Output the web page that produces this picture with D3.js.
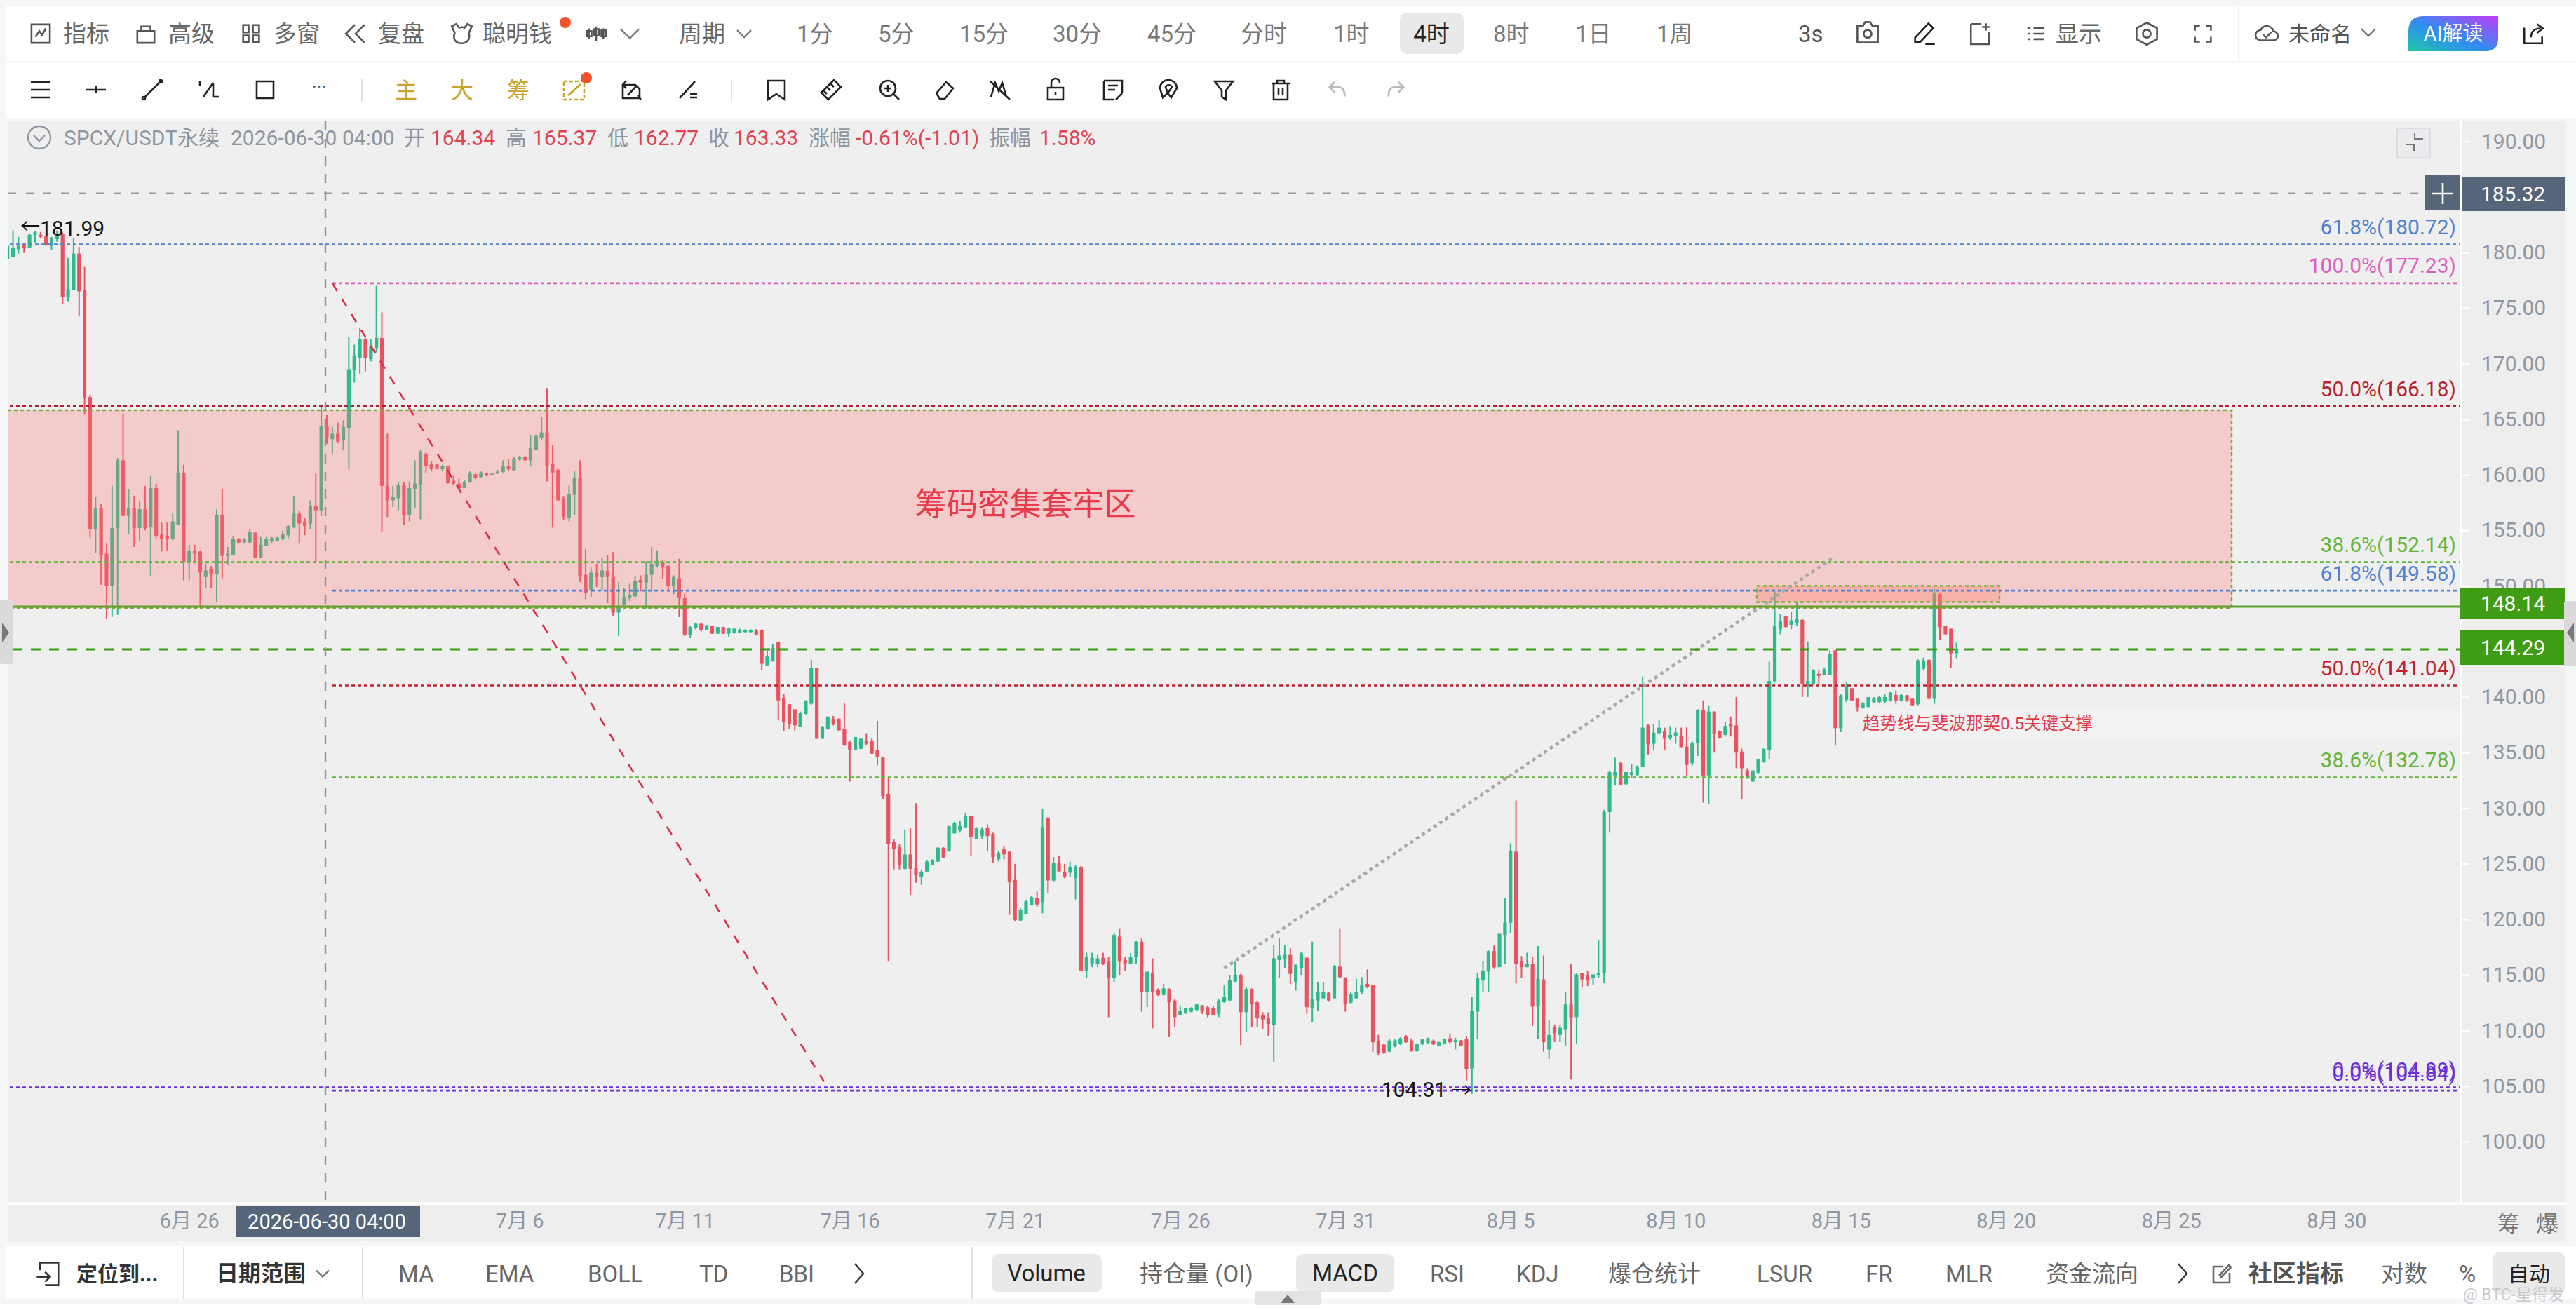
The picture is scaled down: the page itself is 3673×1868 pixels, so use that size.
<!DOCTYPE html>
<html>
<head>
<meta charset="utf-8">
<script src="https://cdn.jsdelivr.net/npm/d3@7"></script>
<style>
	html, body { margin: 0; padding: 0; background: #fff; overflow: hidden; }
	svg { display: block; }
	text { font-family: Roboto, "Noto Sans CJK SC", sans-serif; }
</style>
</head>
<body>
<svg id="chart" width="3673" height="1868" viewBox="0 0 3673 1868"></svg>
<script>

// 4h candles: [open, high, low, close]
const juneCandles = [
	[179.4,181.6,179.3,180.6],[179.6,182,179.6,180.4],[180.3,181.4,179.9,180.6],[180.7,180.8,179.95,180.4],
	[180.4,181.7,180.4,181.6],[181.6,181.9,180.9,181.8],[181.6,181.85,181.3,181.4],[181.5,181.5,180.6,180.65],
	[180.6,181.4,180.25,181.3],[181.2,181.99,180.95,181.5],[181.7,181.8,175.4,176],[176,179.5,175.6,176.7],
	[176.6,181.25,176.6,179.9],[179.9,180.5,174.3,176.5],[176.6,178.7,165.4,166.9],[167,167.2,154.3,155.1],
	[155.1,158,153,157],[157,157.4,150.1,152.8],[152.9,153.8,147,150],[150,159,147.2,155.2],
	[155.2,161.5,147.4,161.3],[161.3,165.5,156.3,156.3],[156.3,158.7,154.7,157],[157,158.1,153.5,155.2],
	[155.2,157.6,154,156.9],[156.9,159,155,155.2],[155.3,159.9,150.9,158.8],[158.8,159.2,154.3,154.5],
	[154.6,155.7,153.1,154.2],[154.5,155.7,153.2,154.2],[154.2,156.5,154.1,155.8],[155.5,164,155.5,160.2],
	[160.2,160.9,150.5,152.1],[152.1,153.7,150.5,153.2],[153.2,153.7,152.1,152.9],[153.1,153.2,148.2,151.2],
	[150.8,152,149.8,151.4],[151.5,151.8,149.8,151.1],[151.1,156.9,148.6,156.4],[156.4,158.7,150.7,152.7],
	[152.7,153.5,151.9,152.9],[152.8,154.5,152.8,154.2],[154.2,154.3,153.8,153.9],[153.9,154.3,153.8,154.2],
	[153.9,155.1,153.9,154.85],[154.8,154.8,152.5,152.5],[152.5,154.4,152.5,153.7],[153.6,154.4,153.6,154.25],
	[154,154.4,153.8,154.3],[154.05,154.4,154,154.35],[154.2,155,154.1,154.65],[154.55,155.5,154.3,155.4],
	[155.3,158.1,155.2,156.5],[156.5,156.8,153.8,155.6],[155.8,156.1,154.55,155.4],[155.6,157.7,155.1,157.2],
	[157.2,160.1,152.1,156.8],[156.8,166.3,156.3,164.4],[164.34,165.37,162.77,163.33],[163.2,164.3,161.9,163.7],
	[163.7,164.7,162.9,163],[163.1,164.9,162.2,164.3],[164.2,172.4,160.5,169.5]
];

const earlyJulyCandles = [
	[169.4,171.7,168.3,170.7],[170.5,173.2,169.1,172.2],[172.2,172.3,169.3,170.5],[170.4,172.2,170.2,171.5],
	[171.4,177,171,172.3],[172.3,174.6,154.9,159],[159,163.7,156.2,157.7],[157.7,159,157.1,158],
	[157.9,159.4,156.8,159.1],[159.1,159.3,155.5,156.4],[156.4,159.4,155.8,158.8],[158.7,161.3,157,159.2],
	[159.1,162.2,156,162],[161.9,162,160.2,160.8],[161,161.2,160.3,160.5],[160.9,161,160.5,160.5],
	[160.5,160.9,160.3,160.8],[160.8,160.8,159.2,159.25],[159.45,159.9,159.1,159.2],[159.2,159.7,158.8,158.8],
	[158.8,159.5,158.8,159.35],[159.3,160.3,159.3,160.1],[160.05,160.1,159.6,159.7],[159.8,160.3,159.75,160.2],
	[160.15,160.2,159.9,159.9],[159.95,160.1,159.95,160.1],[160.1,160.45,160.1,160.3],[160.25,161.3,160.2,160.8],
	[160.75,161.4,160.3,160.5],[160.4,161.6,160.35,161.45],[161.35,161.7,161.3,161.6],[161.6,161.7,161.2,161.3],
	[161.3,163.6,160.8,162.4],[162.25,163.6,162.2,163.5],[163.3,165.2,163.1,163.8],[163.8,167.8,159.4,160.8],
	[160.95,162.7,155.25,160.2],[160.45,160.55,157.7,157.7],[157.9,158.1,155.9,156.2],[156.1,159,155.8,158.3],
	[158.2,160.3,156.4,159.7],[159.7,161.3,150.35,150.9],[151,153.3,148.8,149.4],[149.6,151.65,149,151.2],
	[151.2,152,149.9,150.8],[150.8,152.5,149.55,151.4],[151.35,152.8,148.45,150.8],[150.8,153.05,147.3,147.6],
	[147.6,150.35,145.5,148.2],[148.3,149.8,148.25,149],[148.9,150.2,148.65,149.2],[149.05,150.9,149,150.45],
	[150.55,150.95,149.5,150.3],[150.3,152.2,147.9,151],[151,153.5,149.5,152],[151.8,153.2,151.65,152.25],
	[152.2,152.3,150.6,151.7],[151.8,151.85,149.6,150],[149.95,150.95,149.25,150.8],[150.7,152.45,147.2,148.9],
	[148.9,149.3,145.5,145.6],[145.6,146.4,145.3,146.3],[146.2,146.7,146.1,146.6],[146.6,146.7,145.9,146]
];

const midJulyCandles = [
	[146.05,146.5,146,146.45],[146.4,146.4,145.7,145.7],[145.7,146.3,145.7,146.3],[146.3,146.3,145.7,145.7],
	[145.7,146.25,145.4,146.2],[145.8,146.2,145.7,146.15],[145.8,146.15,145.75,146.05],[145.85,146.1,145.8,146.05],
	[145.85,146.1,145.8,146.05],[146.05,146.1,145.55,145.6],[146.05,146.1,142.45,143],[142.85,144.1,142.85,143.65],
	[143.2,144.8,143.2,144.4],[144.95,145,137.9,139.7],[139.9,140.3,136.95,137.8],[139.35,139.35,137.15,137.6],
	[138.9,138.9,137,137.45],[137.3,138.7,137.3,138.6],[138.5,139.7,138.45,139.7],[139.4,143.35,139.3,142.6],
	[142.6,142.6,136.25,136.25],[136.25,137.4,136.25,137.3],[137.1,138.3,137.05,138.2],[138.05,138.3,137.45,137.6],
	[138.05,138.1,137,137],[137.15,139.5,135.6,135.65],[135.95,136.1,132.4,135.25],[135.25,136.4,135.2,136.4],
	[135.35,136.3,135.3,136.25],[136.1,136.75,135.65,135.8],[136.1,136.3,134.9,134.9],[135.25,137.85,133.85,134.6],
	[134.6,134.6,130.8,131.1],[131.3,132.8,116.2,126.75],[127,127.2,124.5,126.3],[126.5,126.8,124.5,124.9],
	[124.55,128.1,124.5,125.85],[125.85,128.25,122.2,124.55],[124.6,130.45,123.3,124],[123.8,124.45,123.1,124.3],
	[124.3,125.3,124.25,125.2],[124.9,125.4,124.9,125.35],[125.2,126.5,125.15,126.45],[126.45,126.5,125.5,125.55],
	[126.15,128.4,126.1,128.4],[127.75,128.8,127.7,128.7],[128,128.9,127.8,128.4],[128.3,129.6,128.25,129.3],
	[129.3,129.3,125.7,127.4],[127.2,128.3,127.2,128.2],[127.5,128.3,127.2,128.1],[128.2,128.55,126.15,127.5],
	[127.7,127.8,125.1,125.6],[125.4,126.15,125.2,126],[126.3,126.6,125.4,125.85],[126.1,126.1,120.4,123.4],
	[123.55,125,119.8,119.95],[119.9,121,119.85,120.85],[120.5,121.7,120.45,121.6],[121.3,122.1,121.25,122],
	[121.9,122.5,121.15,121.35],[121.55,129.9,120.55,128.3],[129.15,129.2,122.35,123.5],[123.5,125.6,123.4,125.1]
];

const lateJulyCandles = [
	[125.05,125.7,124.3,124.35],[124.3,125,123.7,123.8],[124.2,125.2,123.8,124.7],[123.7,124.9,121.8,124.7],
	[124.7,124.8,115.4,115.4],[115.4,117,114.7,116.6],[115.95,117,115.7,116.55],[116,116.8,115.7,116.5],
	[116.55,117,115.9,116],[116.2,116.65,111.2,114.7],[114.7,118.75,114.35,118.6],[118.45,119.2,115,116.2],
	[116.35,116.65,115.35,116.05],[116,116.95,116,116.6],[116.65,118.05,116,118],[118,118.35,111.7,113.45],
	[113.5,115.3,112.1,115.3],[115.2,116.5,110.2,113.45],[113.7,113.8,113.1,113.2],[113.2,114.2,113.15,113.8],
	[113.75,113.8,109.4,112.55],[112.7,112.85,110.3,111.2],[111.4,112.25,111.35,111.8],[111.6,112.05,111.5,112],
	[111.7,112.1,111.65,112.05],[111.85,112.4,111.8,112.35],[112.25,112.3,111.5,111.7],[112.1,112.25,111.2,111.4],
	[112,112.2,111.35,111.4],[111.5,112.85,111.2,112.7],[112.55,114.05,112.5,113],[112.7,115,112.7,114.5],
	[114.4,116.2,114.4,115],[115,115.1,108.7,111.65],[111.65,113.9,109.9,113.75],[113.75,113.8,110.3,112.4],
	[112.55,112.7,110.3,111.1],[111.35,111.65,110.15,111],[111.1,111.65,109.5,110.6],[110.5,117.7,107.2,116.5],
	[116.35,118.3,114.7,116.75],[116.4,117.7,115.6,116.8],[116.8,117.4,114.2,115.1],[114.4,116,113.6,115.9],
	[115.6,117.1,115,116.95],[116.55,116.6,111.5,112.1],[112,118,110.75,112.85],[112.7,114.35,111.8,113.45],
	[112.9,114.35,112.9,113.5],[113.4,113.5,112.6,112.7],[112.9,115.9,112.9,115.8],[115.75,119.2,114.7,114.8],
	[114.7,114.8,111.7,112.4],[112.5,113.5,112.4,113.3],[112.9,114.65,112.85,113.45],[113.45,114.8,113.3,114.05],
	[114.2,115.5,113.8,113.9],[114.1,114.1,108.1,108.95]
];

const earlyAugustCandles = [
	[109.1,109.6,107.8,108],[108.75,108.8,107.9,108],[108.1,109.25,108.05,109.1],[108.6,109.2,108.5,109.1],
	[108.8,109.4,108.7,109.3],[109.45,109.6,108.9,108.95],[109.1,109.3,108.1,108.15],[108.15,108.85,108.1,108.8],
	[108.75,109.25,108.7,109.2],[108.9,109.35,108.85,109.3],[109.1,109.2,108.7,108.75],[108.65,109,108.6,108.95],
	[108.8,109.3,108.75,109.25],[109.3,109.75,108.85,108.95],[108.95,109.35,108.3,109.15],[109.1,109.15,108.6,108.6],
	[109.25,109.5,105.5,106.55],[106.6,113,104.31,111.75],[111.7,115.2,109.25,114.75],[114.5,116.25,113.45,115.4],
	[115.3,117.2,113.45,117.15],[117.15,117.65,115.55,115.7],[115.7,118.7,115.7,118.7],[118.6,121.95,116,119.7],
	[119.7,126.85,118.8,126.2],[126.1,130.7,114.25,116],[116.2,116.7,114.75,115.7],[115.7,117,115.7,116],
	[116,116.65,110.4,112.15],[112.15,117.6,109.25,114.65],[114.6,116.75,108.1,108.95],[108.3,110.95,107.45,109.6],
	[110.35,110.55,108.95,109.75],[109.6,110.55,108.95,110.25],[110.05,113.45,108.65,112.35],[112.35,116,105.6,111.2],
	[111.2,115.15,108.8,115.05],[115.2,115.2,113.9,114.6],[114.95,115.4,114,114.5],[114.75,115.05,114.1,115.05],
	[114.95,118.1,114.75,115.2],[115.2,129.85,114.25,129.65],[129.65,133.4,127.8,133.25],[132.95,134.55,132.1,133.25]
];

const lateAugustCandles = [
	[134.1,134.15,132.1,132.1],[132.15,133.25,132.1,133.25],[133,134,132.75,133.25],[133,133.85,132.9,133.7],
	[133.75,141.85,133.7,137.25],[137.45,137.6,134.85,135.75],[135.8,137.6,135.25,136.8],[136.75,137.9,136.65,137.25],
	[136.95,137.25,135.2,136.25],[136.3,137.4,136.15,136.6],[136.5,137.25,135.8,136.8],[136.55,137.25,135.5,135.5],
	[135.55,137.35,132.95,133.9],[134.05,136,133.85,135.9],[135.85,138.9,134.7,138.85],[138.85,139.7,130.5,132.95],
	[132.95,139.2,130.35,138.7],[138.7,138.7,135,136.7],[136.95,137,136.25,136.3],[136.6,137.75,136.45,137.4],
	[137.6,138.25,136.45,137.4],[137.45,140,133.6,135],[135.1,135.35,130.85,133.6],[133.4,133.6,132.65,132.9],
	[132.4,133.4,132.4,133.4],[133.2,134.4,133.1,134.4],[134.15,135.35,134.1,135.35],[135.25,143.2,134.4,141.45],
	[141.45,149.5,141.3,146.4],[146.1,147.5,145.65,146.8],[147.25,147.25,146.2,146.3],[146.5,147.7,146.1,146.9],
	[146.7,148.55,146.4,147],[146.95,147,140,141.15],[141,145,140,141.45],[141.15,142.5,141.1,142.4],
	[142.1,142.4,141.1,141.9],[142,142.6,141.95,142.5],[142,144.2,142,143.85],[144.2,144.25,135.65,137.2],
	[137.2,140.3,136.85,140.15],[139.75,141.3,139.55,140.95],[140.8,140.8,139.65,139.7],[139.85,139.85,138.7,139.1],
	[139,139.55,138.95,139.5],[139.1,140,139.1,140],[139.55,140,139.45,139.85],[139.55,140.1,139.5,140],
	[139.6,140.3,139.5,140],[139.65,140.45,139.6,140.4],[140.2,140.6,139.4,139.7],[139.65,140.25,139.6,140.2],
	[140.15,140.2,139.6,139.65],[139.85,139.9,139.2,139.2],[139.35,143.4,139.2,143.3],[142.55,143.55,142.4,143.3],
	[143.35,143.4,139.8,139.85],[139.85,149.75,139.4,149.3],[149.25,149.35,145.15,146.3],[146.4,146.4,145.6,145.65],
	[146.15,146.15,142.65,143.95],[143.95,144.9,143.5,144.29]
];

// 145.00 sits wholly behind the price tag in the picture, so it is left out
const priceTicks = [100,105,110,115,120,125,130,135,140,150,155,160,165,170,175,180,190];
const dateTicks = ["2026-06-26","2026-07-06","2026-07-11","2026-07-16","2026-07-21","2026-07-26","2026-07-31","2026-08-05","2026-08-10","2026-08-15","2026-08-20","2026-08-25","2026-08-30"];

// Fibonacci levels: label ratio, label price, drawn price
const fibRatios = ["61.8%","100.0%","50.0%","38.6%","61.8%","50.0%","38.6%","0.0%","0.0%"];
const fibLabels = [180.72,177.23,166.18,152.14,149.58,141.04,132.78,104.89,104.84];
const fibPrices = [180.72,177.23,166.18,152.14,149.58,141.04,132.78,104.89,104.6];
const fibColors = ["#4f80d2","#dc5fc0","#b51f2e","#62b53c","#4f80d2","#c2202f","#62b53c","#6a2fd6","#6a2fd6"];
const fibStartsAtAnchor = [false,true,false,false,true,true,true,false,true];

const zonePrices = [165.8, 148.0];
const smallZonePrices = [150.0, 148.55];
const lastPrices = [148.14, 144.29];
const crossPrice = 185.32;

const firstCandleTime = Date.UTC(2026, 5, 20, 12);
const crossTime = Date.UTC(2026, 5, 30, 4);
const fourHours = 4 * 3600 * 1000;

const candles = [].concat(juneCandles, earlyJulyCandles, midJulyCandles, lateJulyCandles, earlyAugustCandles, lateAugustCandles)
	.map((d, i) => ({time: new Date(firstCandleTime + i * fourHours), open: d[0], high: d[1], low: d[2], close: d[3]}));

const GREY_TEXT = "#8e96a2";
const GREEN = "#2fb98f";
const RED = "#e8535f";

const plot = {left: 11, right: 3509, top: 173, bottom: 1715};

const svg = d3.select("#chart");

const x = d3.scaleUtc()
	.domain([new Date(firstCandleTime), new Date(crossTime)])
	.range([10.7, 466]);

const y = d3.scaleLinear()
	.domain([180, 100])
	.range([360, 1628]);

function label(g, str, px, py, color, size, anchor, weight) {
	return g.append("text")
		.attr("x", px)
		.attr("y", py)
		.attr("fill", color || "#666")
		.attr("font-size", size || 33)
		.attr("text-anchor", anchor || "start")
		.attr("font-weight", weight || 400)
		.attr("dominant-baseline", "central")
		.text(str);
}

// rough toolbar glyphs, drawn in a 32x32 box
const iconPaths = {
	chart: "M2 2h28v28H2z M8 21l6-9 4 6 6-10",
	lock: "M3 12h26v18H3z M9 12V5h14v7",
	panes: "M3 2h9v12H3z M3 19h9v11H3z M19 2h10v12H19z M19 19h10v11H19z",
	replay: "M15 4L3 16l12 12 M28 4L16 16l12 12",
	smart: "M3 6l6-3 4 5c3-1 5-1 7 0l4-5 6 3-4 9c2 8-2 14-10 14S4 23 7 15z",
	candles: "M5 8v16 M2 12h7v8H2z M16 5v22 M13 9h7v10h-7z M27 8v16 M24 11h7v9h-7z",
	camera: "M3 8h7l3-5h6l3 5h7v21H3z M21 18a5 5 0 1 1-10 0a5 5 0 1 1 10 0",
	pen: "M5 21L22 3l6 6-17 18H5z M18 29h12",
	addLayout: "M4 3h14 M4 3v27h24V14 M24 2v10 M19 7h10",
	list: "M3 7h4 M12 7h17 M3 16h4 M12 16h17 M3 25h4 M12 25h17",
	hexagon: "M16 2l13 7v14l-13 7-13-7V9z M21 16a5 5 0 1 1-10 0a5 5 0 1 1 10 0",
	full: "M3 11V3h8 M21 3h8v8 M29 21v8h-8 M11 29H3v-8",
	cloud: "M8 25a7 7 0 0 1 0-14a9 9 0 0 1 17 2a6 6 0 0 1 0 12z M11 17l4 4 7-7",
	share: "M3 8v21h24v-9 M12 21c0-8 5-12 13-12 M20 3l8 6-8 6",
	menu: "M2 5h28 M2 16h28 M2 27h28",
	hline: "M2 16h28 M16 11v10",
	trend: "M4 28L28 4 M4 28m-2 0a2 2 0 1 0 4 0a2 2 0 1 0-4 0 M28 4m-2 0a2 2 0 1 0 4 0a2 2 0 1 0-4 0",
	fib: "M3 3v8 M8 26L22 6 M22 6v20 M22 26h8",
	rect: "M4 4h24v24H4z",
	swap: "M3 9h18l6 6v13H3z M10 24L22 11 M8 3l-5 6 5 5 M24 24l5 6-5-6",
	cross: "M5 28L27 4 M20 22h10 M20 27h10",
	tag: "M4 3h24v27l-12-8-12 8z",
	ruler: "M20 2l10 10L12 30 2 20z M16 8l4 4 M11 13l4 4 M6 18l4 4",
	zoomin: "M25 14a11 11 0 1 1-22 0a11 11 0 1 1 22 0 M22 22l8 8 M9 14h10 M14 9v10",
	eraser: "M4 21L18 5l10 9-12 15H9z",
	eye: "M3 26L9 6l5 12 5-12 6 20 M2 4l28 26",
	unlock: "M5 13h22v17H5z M10 13V6a6 6 0 0 1 12 0 M16 19v5",
	note: "M3 3h26v17 M3 3v27h14 M9 10h14 M9 16h10 M20 30l9-9",
	magnet: "M8 27L4 14a12 12 0 0 1 24 0l-8 13-5-6 6-9a5 5 0 0 0-9 0l3 9z",
	funnel: "M3 4h26L19 17v13l-6-4v-9z",
	trash: "M3 7h26 M11 7V3h10v4 M6 7v23h20V7 M13 13v11 M19 13v11",
	undo: "M12 4L4 12l8 8 M4 12h14c6 0 9 5 9 14",
	redo: "M20 4l8 8-8 8 M28 12H14c-6 0-9 5-9 14",
	locate: "M2 20h16 M12 14l6 6-6 6 M6 12V3h22v27H12",
	edit: "M27 15v14H4V6h14 M13 18L26 4l3 3-14 14z"
};

function icon(g, name, px, py, size, color, sw) {
	g.append("path")
		.attr("d", iconPaths[name])
		.attr("transform", "translate(" + (px - size / 2) + "," + (py - size / 2) + ") scale(" + size / 32 + ")")
		.attr("fill", "none")
		.attr("stroke", color || "#555")
		.attr("stroke-width", sw || 2.6)
		.attr("vector-effect", "non-scaling-stroke");
}

function chevron(g, px, py, w, color) {
	g.append("path")
		.attr("d", "M" + (px - w / 2) + " " + (py - w / 4) + "L" + px + " " + (py + w / 4) + "L" + (px + w / 2) + " " + (py - w / 4))
		.attr("fill", "none")
		.attr("stroke", color || "#777")
		.attr("stroke-width", 2.4);
}

function dot(g, px, py) {
	g.append("circle").attr("cx", px).attr("cy", py).attr("r", 8).attr("fill", "#f0522a");
}

// page backgrounds
svg.append("rect").attr("width", 3673).attr("height", 1868).attr("fill", "#f5f6f7");
svg.append("rect").attr("x", 8).attr("y", 8).attr("width", 3665).attr("height", 79).attr("fill", "#fff");
svg.append("rect").attr("x", 8).attr("y", 90).attr("width", 3665).attr("height", 78).attr("fill", "#fff");
svg.append("rect").attr("x", 11).attr("y", plot.top).attr("width", plot.right - plot.left).attr("height", plot.bottom - plot.top).attr("fill", "#efefef");
svg.append("rect").attr("x", plot.right).attr("y", plot.top).attr("width", 3658 - plot.right).attr("height", plot.bottom - plot.top).attr("fill", "#eeeeee");
svg.append("rect").attr("x", 11).attr("y", 1718).attr("width", 3647).attr("height", 51).attr("fill", "#eeeeee");
svg.append("rect").attr("x", 8).attr("y", 1777).attr("width", 3665).attr("height", 75).attr("fill", "#fff");
svg.append("rect").attr("x", 0).attr("y", 1860).attr("width", 3673).attr("height", 8).attr("fill", "#fff");

// top toolbar
const top1 = svg.append("g");
icon(top1, "chart", 58, 48, 30);
label(top1, "指标", 90, 48);
icon(top1, "lock", 208, 48, 30);
label(top1, "高级", 240, 48);
icon(top1, "panes", 358, 48, 28);
label(top1, "多窗", 390, 48);
icon(top1, "replay", 507, 48, 34);
label(top1, "复盘", 539, 48);
icon(top1, "smart", 658, 48, 34);
label(top1, "聪明钱", 688, 48);
dot(top1, 806, 32);
icon(top1, "candles", 850, 48, 30);
chevron(top1, 898, 48, 26);
label(top1, "周期", 968, 48);
chevron(top1, 1061, 48, 20);
[["1分",1136],["5分",1252],["15分",1368],["30分",1501],["45分",1636],["分时",1769],["1时",1901],["8时",2129],["1日",2246],["1周",2362]]
	.forEach(d => label(top1, d[0], d[1], 48, "#777"));
top1.append("rect").attr("x", 1996).attr("y", 18).attr("width", 91).attr("height", 59).attr("rx", 10).attr("fill", "#e9e9e9");
label(top1, "4时", 2041, 48, "#222", 33, "middle");
label(top1, "3s", 2564, 48, "#555");
icon(top1, "camera", 2663, 46, 36);
icon(top1, "pen", 2743, 48, 36, "#222");
icon(top1, "addLayout", 2823, 48, 34);
icon(top1, "list", 2903, 48, 28);
label(top1, "显示", 2931, 48, "#666");
icon(top1, "hexagon", 3061, 48, 36);
icon(top1, "full", 3141, 48, 28);
top1.append("line").attr("x1", 3192).attr("x2", 3192).attr("y1", 8).attr("y2", 87).attr("stroke", "#f0f0f0").attr("stroke-width", 2);
icon(top1, "cloud", 3232, 48, 34);
label(top1, "未命名", 3263, 48, "#555", 30);
chevron(top1, 3377, 46, 20);

const aiGradient = svg.append("defs").append("linearGradient").attr("id", "ai-gradient")
	.attr("x1", "0%").attr("y1", "100%").attr("x2", "100%").attr("y2", "0%");
[["0%","#1fc7a8"],["45%","#2f8df0"],["100%","#c23cf5"]].forEach(d => aiGradient.append("stop").attr("offset", d[0]).attr("stop-color", d[1]));
top1.append("path").attr("d", "M3434 23H3562V55Q3562 73 3544 73H3434V45Q3434 23 3456 23Z").attr("fill", "url(#ai-gradient)");
label(top1, "AI解读", 3498, 48, "#fff", 29, "middle");
icon(top1, "share", 3613, 48, 34, "#222");

// drawing toolbar
const top2 = svg.append("g");
[["menu",58],["hline",137],["trend",217],["fib",298],["rect",378]].forEach(d => icon(top2, d[0], d[1], 128, 32, "#222"));
label(top2, "···", 455, 124, "#555", 26, "middle");
top2.append("line").attr("x1", 516).attr("x2", 516).attr("y1", 112).attr("y2", 146).attr("stroke", "#e3e3e3").attr("stroke-width", 2);
[["主",579],["大",659],["筹",739]].forEach(d => label(top2, d[0], d[1], 129, "#c9a429", 32, "middle"));
top2.append("rect").attr("x", 804).attr("y", 116).attr("width", 29).attr("height", 26).attr("fill", "none").attr("stroke", "#c9a429").attr("stroke-width", 2.6).attr("stroke-dasharray", "5,3");
top2.append("path").attr("d", "M810 136L828 120").attr("stroke", "#c9a429").attr("stroke-width", 3);
dot(top2, 836, 111);
[["swap",901],["cross",980]].forEach(d => icon(top2, d[0], d[1], 128, 32, "#222"));
top2.append("line").attr("x1", 1043).attr("x2", 1043).attr("y1", 112).attr("y2", 146).attr("stroke", "#e3e3e3").attr("stroke-width", 2);
[["tag",1107],["ruler",1185],["zoomin",1268],["eraser",1347],["eye",1426],["unlock",1505],["note",1587],["magnet",1666],["funnel",1745],["trash",1826]]
	.forEach(d => icon(top2, d[0], d[1], 128, 32, "#222"));
icon(top2, "undo", 1907, 128, 30, "#bbb");
icon(top2, "redo", 1990, 128, 30, "#bbb");

// candles
const plotClip = svg.append("defs").append("clipPath").attr("id", "plot-clip");
plotClip.append("rect").attr("x", plot.left).attr("y", plot.top).attr("width", plot.right - plot.left).attr("height", plot.bottom - plot.top);

const candleG = svg.append("g").attr("clip-path", "url(#plot-clip)");
const candleColor = d => d.close >= d.open ? GREEN : RED;

candleG.selectAll("line.wick")
	.data(candles)
	.enter()
	.append("line")
		.attr("class", "wick")
		.attr("x1", d => x(d.time))
		.attr("x2", d => x(d.time))
		.attr("y1", d => y(d.high))
		.attr("y2", d => y(d.low))
		.attr("stroke", candleColor)
		.attr("stroke-width", 2);

candleG.selectAll("rect.body")
	.data(candles)
	.enter()
	.append("rect")
		.attr("class", "body")
		.attr("x", d => x(d.time) - 2.6)
		.attr("width", 5.2)
		.attr("y", d => y(Math.max(d.open, d.close)))
		.attr("height", d => Math.max(2.5, Math.abs(y(d.open) - y(d.close))))
		.attr("fill", candleColor);

// the zone overlays sit on top of the candles and tint them
const zoneRight = 3182;
svg.append("rect")
	.attr("x", plot.left)
	.attr("width", zoneRight - plot.left)
	.attr("y", y(zonePrices[0]))
	.attr("height", y(zonePrices[1]) - y(zonePrices[0]))
	.attr("fill", "rgba(255,120,120,0.3)")
	.attr("stroke", "none");
const zoneBorder = "M" + plot.left + " " + y(zonePrices[0]) + "H" + zoneRight + "V" + y(zonePrices[1]) + "H" + plot.left;
svg.append("path").attr("d", zoneBorder).attr("fill", "none").attr("stroke", "#7fa83c").attr("stroke-width", 2.5).attr("stroke-dasharray", "5,4");

// annotation band behind the note
svg.append("rect").attr("x", 2656).attr("y", 1013).attr("width", plot.right - 2656).attr("height", 40).attr("fill", "#f2f2f2");

svg.append("rect")
	.attr("x", 2505)
	.attr("width", 346)
	.attr("y", y(smallZonePrices[0]))
	.attr("height", y(smallZonePrices[1]) - y(smallZonePrices[0]))
	.attr("fill", "rgba(255,120,90,0.28)")
	.attr("stroke", "#7fb03c")
	.attr("stroke-width", 2.5)
	.attr("stroke-dasharray", "5,4");

// fibonacci lines and labels
const fibG = svg.append("g");
const anchorX = 474;
fibPrices.forEach((p, i) => {
	fibG.append("line")
		.attr("x1", fibStartsAtAnchor[i] ? anchorX : 14)
		.attr("x2", plot.right)
		.attr("y1", y(p))
		.attr("y2", y(p))
		.attr("stroke", fibColors[i])
		.attr("stroke-width", 2.6)
		.attr("stroke-dasharray", "5,4");
	label(fibG, fibRatios[i] + "(" + fibLabels[i].toFixed(2) + ")", 3502, y(p) - 25, fibColors[i], 30, "end");
});

// trend lines, anchored on candle times and prices
const lineGen = d3.line().x(d => x(new Date(firstCandleTime + d[0] * fourHours))).y(d => y(d[1]));
const fallLine = [[59, 177.23], [148.3, 105.4]];
const riseLine = [[221, 115.6], [331.5, 152.5]];
svg.append("path").attr("d", lineGen(fallLine)).attr("fill", "none").attr("stroke", "#d9304a").attr("stroke-width", 2.6).attr("stroke-dasharray", "13,13");
svg.append("path").attr("d", lineGen(riseLine)).attr("fill", "none").attr("stroke", "#a9a9a9").attr("stroke-width", 4.5).attr("stroke-dasharray", "5,5");

// price lines
svg.append("line").attr("x1", plot.left).attr("x2", plot.right).attr("y1", y(lastPrices[0])).attr("y2", y(lastPrices[0]))
	.attr("stroke", "#5fa02d").attr("stroke-width", 3);
svg.append("line").attr("x1", 18).attr("x2", plot.right).attr("y1", y(lastPrices[1])).attr("y2", y(lastPrices[1]))
	.attr("stroke", "#3a9a14").attr("stroke-width", 3).attr("stroke-dasharray", "14,12");
svg.append("line").attr("x1", 12).attr("x2", 3458).attr("y1", y(crossPrice)).attr("y2", y(crossPrice))
	.attr("stroke", "#9a9a9a").attr("stroke-width", 2.4).attr("stroke-dasharray", "11,14");

// crosshair
const crossX = x(new Date(crossTime)) - 2;
svg.append("line").attr("x1", crossX).attr("x2", crossX).attr("y1", plot.top).attr("y2", plot.bottom)
	.attr("stroke", "#8d95a1").attr("stroke-width", 2.4).attr("stroke-dasharray", "13,12");

// chart notes
label(svg, "筹码密集套牢区", 1462, 719, "#e83a4a", 45, "middle");
label(svg, "趋势线与斐波那契0.5关键支撑", 2656, 1031, "#e2394b", 24.5);

const extremes = svg.append("g");
label(extremes, "←", 29, 323, "#111", 28);
label(extremes, "181.99", 57, 325, "#111", 30);
label(extremes, "104.31", 1970, 1553, "#111", 30);
label(extremes, "→", 2070, 1555, "#111", 28);

// legend row
const legend = svg.append("g");
legend.append("circle").attr("cx", 56).attr("cy", 196).attr("r", 16).attr("fill", "none").attr("stroke", GREY_TEXT).attr("stroke-width", 2.4);
chevron(legend, 56, 197, 16, GREY_TEXT);
const legendRed = "#e0424f";
label(legend, "SPCX/USDT永续", 91, 196, GREY_TEXT, 30);
label(legend, "2026-06-30 04:00", 329, 196, GREY_TEXT, 30);
[["开",576,"164.34",614],["高",721,"165.37",759],["低",866,"162.77",904],["收",1010,"163.33",1046],["涨幅",1153,"-0.61%(-1.01)",1220],["振幅",1410,"1.58%",1482]]
	.forEach(d => {
		label(legend, d[0], d[1], 196, GREY_TEXT, 30);
		label(legend, d[2], d[3], 196, legendRed, 30);
	});

svg.append("rect").attr("x", 3418).attr("y", 183).attr("width", 47).attr("height", 42).attr("fill", "#ececef").attr("stroke", "#dcdde2").attr("stroke-width", 2);
svg.append("path").attr("d", "M3443 190v8h12 M3430 206h12v9").attr("fill", "none").attr("stroke", "#777").attr("stroke-width", 2);

// axes
const yAxis = d3.axisRight(y)
	.tickValues(priceTicks)
	.tickSize(13)
	.tickPadding(16)
	.tickFormat(d3.format(".2f"));

const yAxisG = svg.append("g")
	.attr("transform", "translate(" + plot.right + ",0)")
	.call(yAxis);
yAxisG.selectAll("line").attr("stroke", "#fff").attr("stroke-width", 2.4);
yAxisG.select(".domain").remove();
yAxisG.selectAll("text").attr("fill", GREY_TEXT).attr("font-size", 30).attr("font-family", "Roboto");
svg.append("line").attr("x1", plot.right).attr("x2", plot.right).attr("y1", plot.top).attr("y2", plot.bottom).attr("stroke", "#fff").attr("stroke-width", 2.4);
svg.append("line").attr("x1", 11).attr("x2", 3658).attr("y1", 1716).attr("y2", 1716).attr("stroke", "#fff").attr("stroke-width", 3);

const xAxis = d3.axisBottom(x)
	.tickValues(dateTicks.map(d => new Date(d + "T00:00:00Z")))
	.tickSize(0)
	.tickPadding(0)
	.tickFormat(d => (d.getUTCMonth() + 1) + "月 " + d.getUTCDate());

const xAxisG = svg.append("g")
	.attr("transform", "translate(0,1742)")
	.call(xAxis);
xAxisG.select(".domain").remove();
xAxisG.selectAll("text").attr("fill", GREY_TEXT).attr("font-size", 29).attr("dy", "0.32em").attr("y", 0);

svg.append("rect").attr("x", 336).attr("y", 1719).attr("width", 263).attr("height", 45).attr("fill", "#56657a");
label(svg, "2026-06-30 04:00", x(new Date(crossTime)), 1742, "#fff", 29, "middle");

label(svg, "筹", 3577, 1745, "#777", 32, "middle");
label(svg, "爆", 3632, 1745, "#777", 32, "middle");

// price tags on the axis
svg.append("rect").attr("x", 3458).attr("y", 250).attr("width", 50).attr("height", 50).attr("fill", "#56657a");
svg.append("path").attr("d", "M3468 276h30 M3483 261v30").attr("stroke", "#fff").attr("stroke-width", 2.6);
svg.append("rect").attr("x", 3511).attr("y", 252).attr("width", 147).attr("height", 49).attr("fill", "#56657a");
label(svg, crossPrice.toFixed(2), 3583, 276, "#fff", 30, "middle");

svg.append("rect").attr("x", 3508).attr("y", 838).attr("width", 150).attr("height", 45).attr("fill", "#3f9c14");
label(svg, lastPrices[0].toFixed(2), 3583, 860, "#fff", 30, "middle");
svg.append("rect").attr("x", 3508).attr("y", 898).attr("width", 150).attr("height", 50).attr("fill", "#3f9c14");
label(svg, lastPrices[1].toFixed(2), 3583, 923, "#fff", 30, "middle");

// collapse handles
svg.append("rect").attr("x", 0).attr("y", 855).attr("width", 18).attr("height", 92).attr("rx", 3).attr("fill", "#dadada");
svg.append("path").attr("d", "M3 888L13 902L3 916Z").attr("fill", "#777");
svg.append("rect").attr("x", 3656).attr("y", 857).attr("width", 17).attr("height", 93).attr("rx", 3).attr("fill", "#dadada");
svg.append("path").attr("d", "M3670 888L3660 902L3670 916Z").attr("fill", "#777");

// bottom toolbar
const bottom = svg.append("g");
const bottomY = 1816;
icon(bottom, "locate", 69, bottomY, 38, "#333");
label(bottom, "定位到...", 109, bottomY, "#333", 30, "start", 700);
[262, 517, 1386].forEach(px => bottom.append("line").attr("x1", px).attr("x2", px).attr("y1", 1778).attr("y2", 1852).attr("stroke", "#e0e0e0").attr("stroke-width", 2));
label(bottom, "日期范围", 308, bottomY, "#333", 32, "start", 700);
chevron(bottom, 460, bottomY, 18);
[["MA",568],["EMA",692],["BOLL",838],["TD",997],["BBI",1111],["持仓量 (OI)",1625],["RSI",2039],["KDJ",2162],["爆仓统计",2293],["LSUR",2505],["FR",2660],["MLR",2774],["资金流向",2917],["对数",3395],["%",3506]]
	.forEach(d => label(bottom, d[0], d[1], bottomY, "#666", 33));
bottom.append("path").attr("d", "M1219 1802L1231 1816L1219 1830").attr("fill", "none").attr("stroke", "#333").attr("stroke-width", 2.4);
bottom.append("path").attr("d", "M3106 1802L3118 1816L3106 1830").attr("fill", "none").attr("stroke", "#333").attr("stroke-width", 2.4);
bottom.append("rect").attr("x", 1414).attr("y", 1788).attr("width", 157).attr("height", 55).attr("rx", 10).attr("fill", "#e9e9e9");
label(bottom, "Volume", 1492, 1815, "#222", 33, "middle");
bottom.append("rect").attr("x", 1848).attr("y", 1788).attr("width", 140).attr("height", 55).attr("rx", 10).attr("fill", "#e9e9e9");
label(bottom, "MACD", 1918, 1815, "#222", 33, "middle");
icon(bottom, "edit", 3168, bottomY, 32, "#666");
label(bottom, "社区指标", 3206, bottomY, "#555", 34, "start", 700);
bottom.append("rect").attr("x", 3554).attr("y", 1785).attr("width", 104).attr("height", 62).attr("rx", 12).attr("fill", "#e9e9e9");
label(bottom, "自动", 3606, 1816, "#222", 30, "middle");

svg.append("rect").attr("x", 1789).attr("y", 1841).attr("width", 95).attr("height", 20).attr("rx", 4).attr("fill", "#e3e3e3");
svg.append("path").attr("d", "M1826 1858L1836 1846L1846 1858Z").attr("fill", "#777");

// watermark
label(svg, "@ BTC-星得发", 3512, 1846, "#c9c9c9", 23);

</script>
</body>
</html>
